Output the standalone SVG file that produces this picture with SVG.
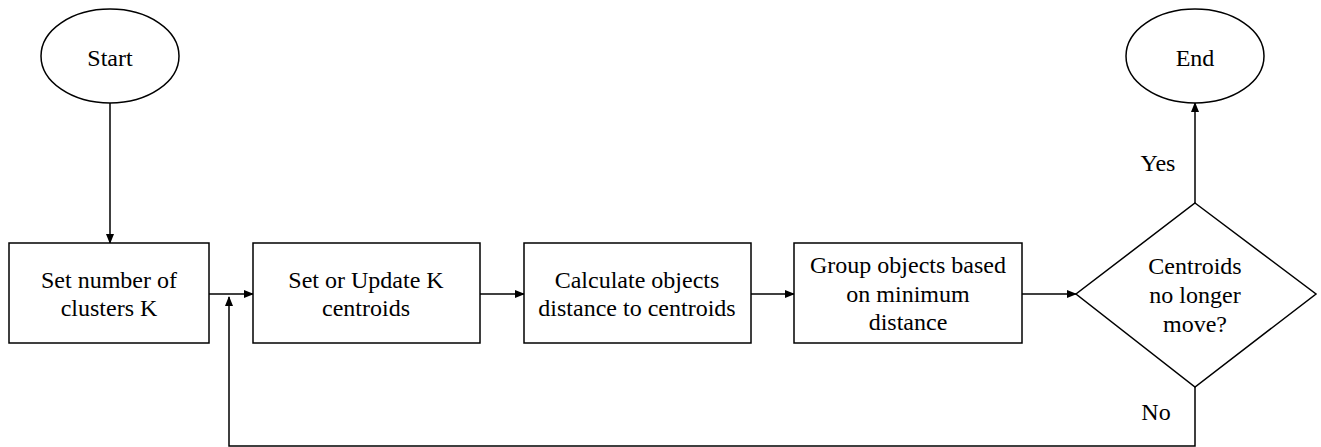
<svg xmlns="http://www.w3.org/2000/svg" width="1321" height="447" viewBox="0 0 1321 447">
<style>
.s{fill:#fff;stroke:#000;stroke-width:1.5}
.t{font-family:"Liberation Serif","Times New Roman",serif;font-size:24px;fill:#000;text-anchor:middle}
.c{fill:none;stroke:#000;stroke-width:1.5}
</style>
<defs>
<marker id="a" markerWidth="10" markerHeight="8" refX="9" refY="4" orient="auto" markerUnits="userSpaceOnUse">
<path d="M0,0 L10,4 L0,8 Z" fill="#000"/>
</marker>
</defs>
<rect width="1321" height="447" fill="#fff"/>
<g id="connectors">
<path class="c" d="M110,103 V243" marker-end="url(#a)"/>
<path class="c" d="M209,294 H253" marker-end="url(#a)"/>
<path class="c" d="M1195,387 V446 H229 V297" marker-end="url(#a)"/>
<path class="c" d="M480,294 H524" marker-end="url(#a)"/>
<path class="c" d="M751,294 H794" marker-end="url(#a)"/>
<path class="c" d="M1022,294 H1076" marker-end="url(#a)"/>
<path class="c" d="M1195,203 V103" marker-end="url(#a)"/>
<text class="t" x="1158" y="171">Yes</text>
<text class="t" x="1156" y="420">No</text>
</g>
<g id="start">
<ellipse class="s" cx="110" cy="56" rx="69" ry="47"/>
<text class="t" x="110" y="66">Start</text>
</g>
<g id="setk">
<rect class="s" x="9" y="243" width="200" height="100"/>
<text class="t" x="109" y="288">Set number of</text>
<text class="t" x="109" y="316">clusters K</text>
</g>
<g id="update">
<rect class="s" x="253" y="243" width="227" height="100"/>
<text class="t" x="366" y="288">Set or Update K</text>
<text class="t" x="366" y="316">centroids</text>
</g>
<g id="calc">
<rect class="s" x="524" y="243" width="227" height="100"/>
<text class="t" x="637" y="288">Calculate objects</text>
<text class="t" x="637" y="316">distance to centroids</text>
</g>
<g id="group">
<rect class="s" x="794" y="243" width="228" height="100"/>
<text class="t" x="908" y="273">Group objects based</text>
<text class="t" x="908" y="302">on minimum</text>
<text class="t" x="908" y="330">distance</text>
</g>
<g id="decision">
<polygon class="s" points="1195,203 1316,294 1195,387 1076,294"/>
<text class="t" x="1195" y="274">Centroids</text>
<text class="t" x="1195" y="303">no longer</text>
<text class="t" x="1195" y="332">move?</text>
</g>
<g id="end">
<ellipse class="s" cx="1195" cy="56" rx="69" ry="47"/>
<text class="t" x="1195" y="66">End</text>
</g>
</svg>
